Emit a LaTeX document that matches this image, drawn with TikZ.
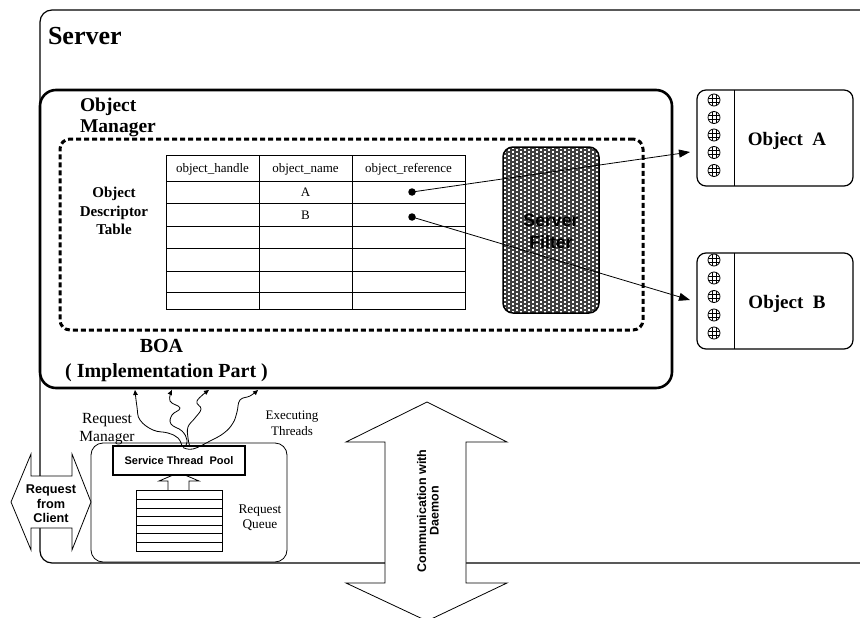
\documentclass[tikz,border=0pt]{standalone}
\usepackage{fontspec}
\setmainfont{Liberation Serif}
\setsansfont{Liberation Sans}
\usetikzlibrary{arrows.meta,calc}

\tikzset{
  knob/.pic={
    \draw[line width=0.8pt] (0,0) circle (6pt);
    \clip (0,0) circle (6pt);
    \draw[line width=0.5pt] (-2.2,-7) -- (-2.2,7) (2.2,-7) -- (2.2,7)
                            (-7,-2.2) -- (7,-2.2) (-7,2.2) -- (7,2.2);
  },
  box/.style={draw, inner sep=0pt, outer sep=0pt},
  txt/.style={inner sep=0pt, outer sep=0pt, anchor=base},
  tbl/.style={txt, font=\fontsize{13}{15}\selectfont},
  bold/.style={txt, font=\fontsize{#1}{#1}\selectfont\bfseries},
  plain/.style={txt, font=\fontsize{#1}{#1}\selectfont},
  sansb/.style={txt, font=\fontsize{#1}{#1}\selectfont\sffamily\bfseries},
  refarrow/.style={line width=0.8pt, -{Triangle[length=11pt,width=8pt]}},
  thread/.style={line width=0.8pt, -{Triangle[length=5pt,width=4.5pt]}},
  bigarrow/.style={draw, fill=white, line width=0.8pt, line join=miter},
}

\begin{document}
\begin{tikzpicture}[x=1pt,y=-1pt]
\clip (0,0) rectangle (860,618);

% server frame (its right side runs past the page)
\node[box, line width=1.2pt, rounded corners=12pt,
      minimum width=880pt, minimum height=553pt] (server) at (480,286.5) {};
\node[bold=26, anchor=base west] (servertitle) at (48,45) {Server};

% BOA (implementation part)
\node[box, line width=2.6pt, rounded corners=16pt,
      minimum width=632pt, minimum height=298pt] (boa) at (356,239) {};
\node[box, line width=3pt, dash pattern=on 5pt off 3pt, rounded corners=10pt,
      minimum width=583pt, minimum height=191pt] (omgr) at (351.5,234.5) {};

\node[bold=19.5, anchor=base west] (om1) at (80,111) {Object};
\node[bold=19.5, anchor=base west] (om2) at (80,132) {Manager};
\node[bold=15] (odt1) at (114,197) {Object};
\node[bold=15] (odt2) at (114,216) {Descriptor};
\node[bold=15] (odt3) at (114,234) {Table};
\node[bold=20] (boa1) at (161.5,352) {BOA};
\node[bold=20] (boa2) at (166.5,377) {( Implementation Part )};

% object descriptor table
\node[box, line width=0.9pt, minimum width=299pt, minimum height=154pt] (table) at (315.5,232) {};
\foreach \r in {181,203,226,248,271,292}
  \draw[line width=0.9pt] (166,\r) -- (465,\r);
\draw[line width=0.9pt] (259,155) -- (259,309) (352,155) -- (352,309);
\node[tbl] (h1) at (212.5,172) {object\_handle};
\node[tbl] (h2) at (305.5,172) {object\_name};
\node[tbl] (h3) at (408.5,172) {object\_reference};
\node[tbl] (na) at (305.5,196) {A};
\node[tbl] (nb) at (305.5,219) {B};
\node[circle, fill, inner sep=0pt, minimum size=7.5pt] (refA) at (412,192) {};
\node[circle, fill, inner sep=0pt, minimum size=7.5pt] (refB) at (412,217) {};

% server filter with its woven texture
\begin{scope}
  \clip[rounded corners=10pt] (503,147) rectangle (599,313);
  \fill[black!75] (503,147) rectangle (599,313);
  \foreach \i in {0,...,23} {
    \pgfmathsetmacro\xx{505+4*\i}
    \pgfmathsetmacro\ph{mod(\i,2)*2}
    \draw[white, line width=2.3pt, dash pattern=on 2.4pt off 1.6pt, dash phase=\ph pt]
      (\xx,147) -- (\xx,313);
  }
\end{scope}
\node[box, line width=1.5pt, rounded corners=10pt,
      minimum width=96pt, minimum height=166pt] (filter) at (551,230) {};
\node[sansb=17.7, text=black] (f1) at (551,226.5) {Server};
\node[sansb=17.7, text=black] (f2) at (551,248.5) {Filter};

% objects
\node[box, line width=1.2pt, rounded corners=9pt,
      minimum width=156pt, minimum height=96pt] (objA) at (775,138) {};
\node[box, line width=1.2pt, rounded corners=9pt,
      minimum width=156pt, minimum height=96pt] (objB) at (775,301) {};
\draw[line width=1pt] (objA.north west) ++(37,0) -- ++(0,96);
\draw[line width=1pt] (objB.north west) ++(37,0) -- ++(0,96);
\foreach \y in {100,117.5,135,152.5,170.5}
  \pic at (714,\y) {knob};
\foreach \y in {260,278,296.5,315,333}
  \pic at (714,\y) {knob};
\node[bold=19] (la) at (787,145) {Object\ \ A};
\node[bold=19] (lb) at (787,308) {Object\ \ B};

% references from the table to the objects
\coordinate (tipA) at ($(objA.west)+(-7,14)$);
\coordinate (tipB) at ($(objB.west)+(-7,-1)$);
\draw[refarrow] (refA.center) -- (tipA);
\draw[refarrow] (refB.center) -- (tipB);

% request manager
\node[box, line width=0.8pt, rounded corners=12pt,
      minimum width=196pt, minimum height=119pt] (rmgr) at (189,502.5) {};
\draw[fill=white, line width=0.8pt]
  (168,490) -- (168,481) -- (159,481) -- (179,472.5) -- (199,481) -- (189,481) -- (189,490);
\node[box, fill=white, line width=1.5pt, minimum width=132pt, minimum height=29pt] (pool) at (179,460.5) {};
\node[sansb=11] (pooltxt) at (179,464.5) {Service Thread\ \ Pool};
\node[box, line width=0.8pt, minimum width=86pt, minimum height=61pt] (queue) at (179,520.5) {};
\foreach \r in {499,508,516.5,525,533.5,542}
  \draw[line width=0.8pt] (136,\r) -- (222,\r);

\node[plain=15.5] (rm1) at (107,423) {Request};
\node[plain=15.5] (rm2) at (107,441) {Manager};
\node[plain=13] (et1) at (292,419) {Executing};
\node[plain=13] (et2) at (292,435) {Threads};
\node[plain=13.3] (rq1) at (260,513) {Request};
\node[plain=13.3] (rq2) at (260,528) {Queue};

% executing threads rising from the pool into the BOA
\coordinate (t1) at ($(boa.south west)+(95,2)$);
\coordinate (t2) at ($(boa.south west)+(132,2)$);
\coordinate (t3) at ($(boa.south west)+(169,2)$);
\coordinate (t4) at ($(boa.south west)+(218,2)$);
\coordinate (s1) at ($(pool.north)+(3,0)$);
\coordinate (s2) at ($(pool.north)+(6,1)$);
\coordinate (s3) at ($(pool.north)+(11,1)$);
\coordinate (s4) at ($(pool.north)+(4,1.5)$);
\draw[thread] plot[smooth, tension=0.7] coordinates
  {(s1) (178,438) (168,433) (153,430) (140,420) (137,407) (t1)};
\draw[thread] plot[smooth, tension=0.7] coordinates
  {(s2) (187,440) (182,431) (171,424) (172,415) (180,408) (170,401) (t2)};
\draw[thread] plot[smooth, tension=0.7] coordinates
  {(s3) (188,438) (188,427) (195,418) (201,409) (197,401) (t3)};
\draw[thread] plot[smooth, tension=0.7] coordinates
  {(s4) (193,449) (210,441) (224,433) (233,423) (237,412) (240,400) (250,396) (t4)};

% request from client
\draw[bigarrow] (11,502) -- (31,454) -- (31,476) -- (72,476) -- (72,454) -- (91,502)
  -- (72,550) -- (72,528) -- (31,528) -- (31,550) -- cycle;
\node[sansb=12.7] (rc1) at (51,493) {Request};
\node[sansb=12.7] (rc2) at (51,508) {from};
\node[sansb=12.7] (rc3) at (51,522.5) {Client};

% communication with the daemon
\draw[bigarrow] (427,402) -- (507,442) -- (466,442) -- (466,583) -- (507,583) -- (427,621)
  -- (346,583) -- (385,583) -- (385,442) -- (346,442) -- cycle;
\node[sansb=12.5, anchor=center, rotate=90, align=center] (daemon) at (428,511)
  {Communication with\\Daemon};
\end{tikzpicture}
\end{document}
